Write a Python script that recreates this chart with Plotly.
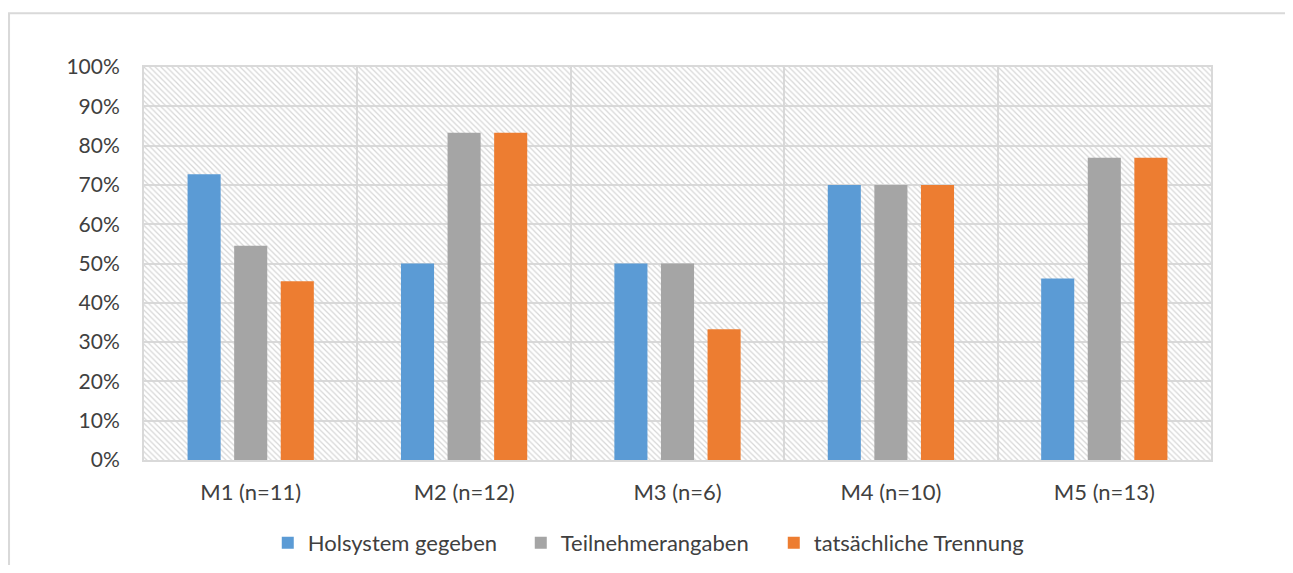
import plotly.graph_objects as go

categories = ["M1 (n=11)", "M2 (n=12)", "M3 (n=6)", "M4 (n=10)", "M5 (n=13)"]
series_names = ["Holsystem gegeben", "Teilnehmerangaben", "tatsächliche Trennung"]
holsystem = [0.727, 0.50, 0.50, 0.70, 0.462]
teilnehmer = [0.545, 0.833, 0.50, 0.70, 0.769]
trennung = [0.455, 0.833, 0.333, 0.70, 0.769]
colors = ["#5B9BD5", "#A5A5A5", "#ED7D31"]
y_ticks = [i / 10 for i in range(11)]

FONT = "Lato, Open Sans, sans-serif"
TXT = "#404040"
GRID = "#d9d9d9"

fig = go.Figure()

# hatched plot-area background on the base (numeric) axis
fig.add_trace(go.Bar(
    x=[0.5], y=[1.0], width=[1.0], xaxis="x", yaxis="y",
    marker=dict(color="rgba(255,255,255,0)", line=dict(width=0),
                pattern=dict(shape="\\", fgcolor="#d6d6d6", bgcolor="rgba(255,255,255,0)",
                             size=4, solidity=0.3, fillmode="replace")),
    showlegend=False, hoverinfo="skip"))

for name, vals, col in zip(series_names, [holsystem, teilnehmer, trennung], colors):
    fig.add_trace(go.Bar(x=categories, y=vals, name=name, xaxis="x2", yaxis="y",
                         marker=dict(color=col, line=dict(width=0))))

fig.update_layout(
    width=1277, height=557,
    margin=dict(l=136, r=74, t=59, b=105, autoexpand=False),
    paper_bgcolor="white", plot_bgcolor="white",
    font=dict(family=FONT, size=21, color=TXT),
    barmode="group", bargap=0.345, bargroupgap=0.29,
    xaxis=dict(range=[0, 1], visible=False, showgrid=False),
    xaxis2=dict(overlaying="x", side="bottom", type="category",
                tickson="boundaries", showgrid=True, gridcolor=GRID, gridwidth=2,
                showline=True, linecolor=GRID, linewidth=2, mirror=True,
                ticks="", ticklabelstandoff=12, tickfont=dict(size=22, color=TXT)),
    yaxis=dict(range=[0, 1], tickvals=y_ticks, tickformat=".0%",
               showgrid=True, gridcolor=GRID, gridwidth=2, zeroline=False,
               showline=True, linecolor=GRID, linewidth=2, mirror=True,
               ticks="", ticklabelstandoff=18, tickfont=dict(size=21, color=TXT)),
    legend=dict(orientation="h", x=0.116, xanchor="left", y=-0.211, yanchor="middle",
                font=dict(size=22, color=TXT), itemwidth=30, traceorder="normal",
                entrywidth=208, entrywidthmode="pixels"),
    shapes=[dict(type="rect", xref="paper", yref="paper",
                 x0=-0.1265, x1=1.2, y0=-0.6, y1=1.137,
                 line=dict(color=GRID, width=2), fillcolor="rgba(0,0,0,0)", layer="below")],
)

fig.write_html("out.html")
